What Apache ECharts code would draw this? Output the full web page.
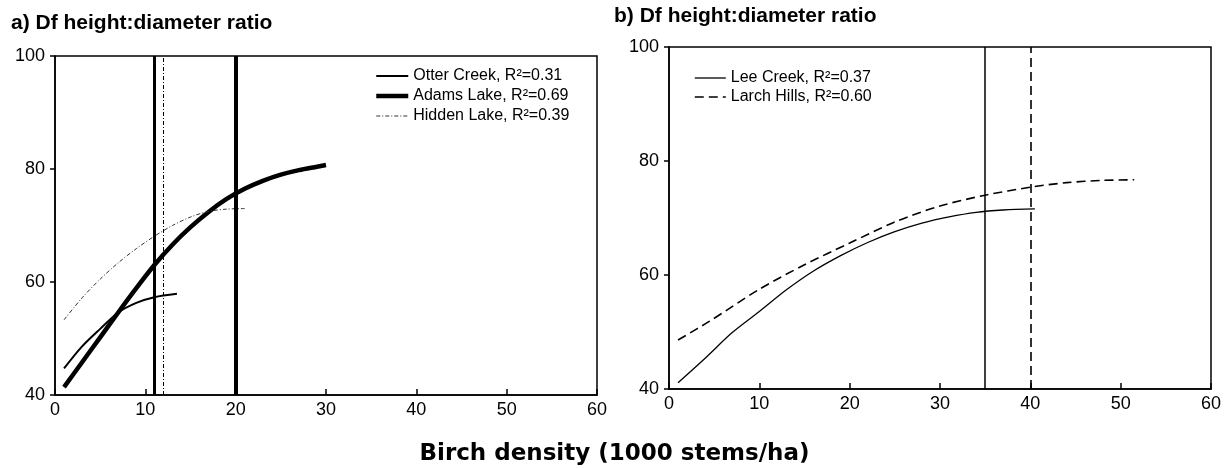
<!DOCTYPE html>
<html>
<head>
<meta charset="utf-8">
<title>Df height:diameter ratio</title>
<script src="https://cdn.jsdelivr.net/npm/echarts@6/dist/echarts.min.js"></script>
<style>
  html, body { margin: 0; padding: 0; background: #fff; }
  #chart { width: 1229px; height: 468px; }
</style>
</head>
<body>
<div id="chart"></div>
<script>
// birch density (1000 stems/ha) -> Df height:diameter ratio
const otterX = [1, 3, 5, 7, 9, 11, 13.5]
const otterY = [44.7, 48.6, 51.7, 54.6, 56.3, 57.3, 57.9]
const adamsX = [1, 3, 5, 7, 9, 11, 13, 15, 17, 19, 21, 23, 25, 27, 29, 30]
const adamsY = [41.4, 45.8, 50.2, 54.6, 58.9, 63.0, 66.6, 69.7, 72.4, 74.7, 76.5, 77.9, 79.0, 79.8, 80.4, 80.7]
const hiddenX = [1, 3, 5, 7, 9, 11, 13, 15, 17, 19, 21]
const hiddenY = [53.3, 57.2, 60.5, 63.4, 65.9, 68.1, 70.0, 71.5, 72.5, 72.9, 73.0]
const leeX = [1, 4, 7, 10, 13, 16, 19, 22, 25, 28, 31, 34, 37, 40.5]
const leeY = [41.1, 45.4, 49.9, 53.6, 57.4, 60.7, 63.4, 65.7, 67.6, 69.1, 70.2, 71.0, 71.4, 71.6]
const larchX = [1, 4.5, 10, 15, 20, 25, 30, 35, 40, 44, 48, 51.5]
const larchY = [48.6, 51.9, 57.5, 61.8, 65.6, 69.3, 72.1, 74.0, 75.4, 76.2, 76.6, 76.7]

// vertical reference lines (density where each curve is cut)
const otterCut = 11
const adamsCut = 20
const hiddenCut = 12
const leeCut = 35
const larchCut = 40

const seriesNamesA = ['Otter Creek, R²=0.31', 'Adams Lake, R²=0.69', 'Hidden Lake, R²=0.39']
const seriesNamesB = ['Lee Creek, R²=0.37', 'Larch Hills, R²=0.60']

const xTicks = { min: 0, max: 60, interval: 10 }
const yTicks = { min: 40, max: 100, interval: 20 }

// line widths per series, also used for the legend icons
const widthsA = [2, 4.5, 1]
const widthsB = [1.3, 1.6]

const font = 'Liberation Sans, Arial, Helvetica, sans-serif'
const wideFont = 'DejaVu Sans, Liberation Sans, sans-serif'

function pairs (xs, ys) {
  return xs.map((x, i) => [x, ys[i]])
}

function cutLine (x, width, type) {
  return {
    silent: true,
    symbol: 'none',
    label: { show: false },
    lineStyle: { color: '#000', width: width, type: type },
    emphasis: { disabled: true },
    data: [{ xAxis: x }]
  }
}

function xAxisOf (idx) {
  return {
    type: 'value',
    gridIndex: idx,
    min: xTicks.min,
    max: xTicks.max,
    interval: xTicks.interval,
    axisLine: { show: true, onZero: false, lineStyle: { color: '#000', width: 1.5 } },
    axisTick: { show: true, inside: true, length: 6, lineStyle: { color: '#000', width: 1.5 } },
    axisLabel: { color: '#000', fontSize: 18, fontFamily: font, margin: 6 },
    splitLine: { show: false }
  }
}

function yAxisOf (idx) {
  return {
    type: 'value',
    gridIndex: idx,
    min: yTicks.min,
    max: yTicks.max,
    interval: yTicks.interval,
    axisLine: { show: true, lineStyle: { color: '#000', width: 1.5 } },
    axisTick: { show: true, length: 5, lineStyle: { color: '#000', width: 1.5 } },
    axisLabel: { color: '#000', fontSize: 18, fontFamily: font, margin: 10 },
    splitLine: { show: false }
  }
}

function legendOf (names, widths, left, top, width, gap) {
  return {
    data: names.map((n, i) => ({ name: n, lineStyle: { width: widths[i] } })),
    orient: 'vertical',
    left: left,
    top: top,
    itemWidth: width,
    itemHeight: 14,
    itemGap: gap,
    // hide the circle the line legend draws when the series has no symbol
    itemStyle: { opacity: 0 },
    textStyle: { color: '#000', fontSize: 16, lineHeight: 16, fontFamily: font }
  }
}

const chart = echarts.init(document.getElementById('chart'))

let option = {
  animation: false,
  backgroundColor: '#fff',
  title: [
    {
      text: 'a) Df height:diameter ratio',
      left: 6,
      top: 8,
      textStyle: { color: '#000', fontSize: 21, fontWeight: 'bold', fontFamily: font }
    },
    {
      text: 'b) Df height:diameter ratio',
      left: 609,
      top: 1,
      textStyle: { color: '#000', fontSize: 21, fontWeight: 'bold', fontFamily: font }
    },
    {
      text: 'Birch density (1000 stems/ha)',
      left: 'center',
      top: 438,
      textStyle: { color: '#000', fontSize: 23, fontWeight: 'bold', fontFamily: wideFont }
    }
  ],
  legend: [
    legendOf(seriesNamesA, widthsA, 369, 63, 32, 4),
    legendOf(seriesNamesB, widthsB, 689, 65, 31, 3)
  ],
  grid: [
    { left: 55, right: 632, top: 56, bottom: 73, show: true, borderColor: '#000', borderWidth: 1.5, backgroundColor: 'transparent' },
    { left: 669, right: 18, top: 47, bottom: 79, show: true, borderColor: '#000', borderWidth: 1.5, backgroundColor: 'transparent' }
  ],
  xAxis: [xAxisOf(0), xAxisOf(1)],
  yAxis: [yAxisOf(0), yAxisOf(1)],
  series: [
    {
      name: seriesNamesA[0],
      type: 'line',
      xAxisIndex: 0,
      yAxisIndex: 0,
      smooth: 0.3,
      showSymbol: false,
      symbol: 'none',
      lineStyle: { color: '#000', width: widthsA[0] },
      itemStyle: { color: '#000' },
      markLine: cutLine(otterCut, 3, 'solid'),
      data: pairs(otterX, otterY)
    },
    {
      name: seriesNamesA[1],
      type: 'line',
      xAxisIndex: 0,
      yAxisIndex: 0,
      smooth: 0.3,
      showSymbol: false,
      symbol: 'none',
      lineStyle: { color: '#000', width: widthsA[1] },
      itemStyle: { color: '#000' },
      markLine: cutLine(adamsCut, 4, 'solid'),
      data: pairs(adamsX, adamsY)
    },
    {
      name: seriesNamesA[2],
      type: 'line',
      xAxisIndex: 0,
      yAxisIndex: 0,
      smooth: 0.3,
      showSymbol: false,
      symbol: 'none',
      lineStyle: { color: '#333', width: widthsA[2], type: [4, 2, 1, 2] },
      itemStyle: { color: '#333' },
      markLine: cutLine(hiddenCut, 1, [4, 2, 1, 2]),
      data: pairs(hiddenX, hiddenY)
    },
    {
      name: seriesNamesB[0],
      type: 'line',
      xAxisIndex: 1,
      yAxisIndex: 1,
      smooth: 0.3,
      showSymbol: false,
      symbol: 'none',
      lineStyle: { color: '#000', width: widthsB[0] },
      itemStyle: { color: '#000' },
      markLine: cutLine(leeCut, 1.5, 'solid'),
      data: pairs(leeX, leeY)
    },
    {
      name: seriesNamesB[1],
      type: 'line',
      xAxisIndex: 1,
      yAxisIndex: 1,
      smooth: 0.3,
      showSymbol: false,
      symbol: 'none',
      lineStyle: { color: '#000', width: widthsB[1], type: [9, 5] },
      itemStyle: { color: '#000' },
      markLine: cutLine(larchCut, 1.6, [9, 5]),
      data: pairs(larchX, larchY)
    }
  ]
}

chart.setOption(option)
</script>
</body>
</html>
